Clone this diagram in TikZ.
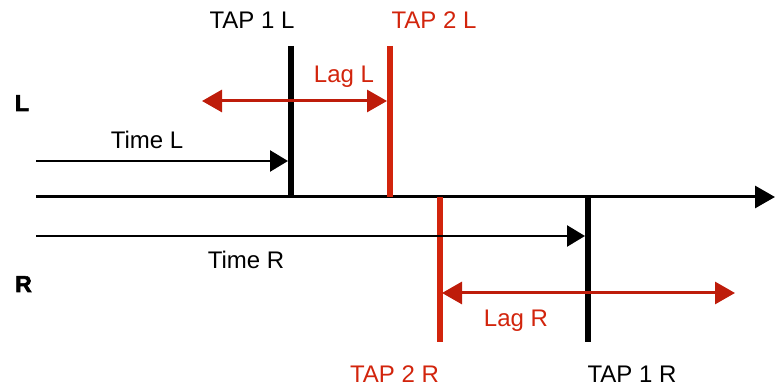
\documentclass[tikz,border=0pt]{standalone}
\usepackage{fontspec}
\setmainfont{Liberation Sans}
\newfontfamily\heavyfont[FakeBold=2.5]{Liberation Sans Bold}
\usetikzlibrary{arrows.meta}
\definecolor{tapred}{RGB}{210,36,12}
\definecolor{lagred}{RGB}{190,28,10}
\tikzset{
  lbl/.style={anchor=base, inner sep=0pt, font=\fontsize{24}{28}\selectfont},
  side/.style={anchor=base, inner sep=0pt, font=\fontsize{23}{28}\heavyfont},
  tapline/.style={line width=6pt},
  axisline/.style={line width=3pt, -{Triangle[length=20pt,width=22pt]}},
  timearrow/.style={line width=2.5pt, -{Triangle[length=18pt,width=21pt]}},
  lagarrow/.style={line width=3pt, color=lagred, {Triangle[length=20pt,width=22pt]}-{Triangle[length=20pt,width=22pt]}}
}
\begin{document}
\begin{tikzpicture}[x=1pt,y=1pt]
\useasboundingbox (0,0) rectangle (780,387);
% coordinates (y = 387 - pixel row)
\coordinate (ax0) at (36,190);
\coordinate (ax1) at (775,190);
\coordinate (t1lt) at (291,341);
\coordinate (t1lb) at (291,188.5);
\coordinate (t2lt) at (390,341);
\coordinate (t2lb) at (390,190);
\coordinate (t2rt) at (440,190);
\coordinate (t2rb) at (440,45);
\coordinate (t1rt) at (588,191.5);
\coordinate (t1rb) at (588,45);
\coordinate (tl0) at (36,226);
\coordinate (tl1) at (288,226);
\coordinate (tr0) at (36,151);
\coordinate (tr1) at (585,151);
\coordinate (ll0) at (202,286);
\coordinate (ll1) at (387,286);
\coordinate (lr0) at (442,94);
\coordinate (lr1) at (735,94);
% main axis
\draw[axisline] (ax0) -- (ax1);
% tap lines
\draw[tapline, black] (t1lt) -- (t1lb);
\draw[tapline, tapred] (t2lt) -- (t2lb);
\draw[tapline, tapred] (t2rt) -- (t2rb);
\draw[tapline, black] (t1rt) -- (t1rb);
% time arrows
\draw[timearrow] (tl0) -- (tl1);
\draw[timearrow] (tr0) -- (tr1);
% lag arrows
\draw[lagarrow] (ll0) -- (ll1);
\draw[lagarrow] (lr0) -- (lr1);
% labels
\node[lbl] (tap1l) at (252,358.5) {TAP 1 L};
\node[lbl, text=tapred] (tap2l) at (434,358.5) {TAP 2 L};
\node[lbl, text=tapred] (tap2r) at (394.5,4) {TAP 2 R};
\node[lbl] (tap1r) at (632,4) {TAP 1 R};
\node[lbl] (timel) at (147,238) {Time L};
\node[lbl] (timer) at (246,118) {Time R};
\node[lbl, text=tapred] (lagl) at (344,304) {Lag L};
\node[lbl, text=tapred] (lagr) at (516,60) {Lag R};
\node[side] (sidel) at (22,276) {L};
\node[side] (sider) at (23.5,95) {R};
\end{tikzpicture}
\end{document}
